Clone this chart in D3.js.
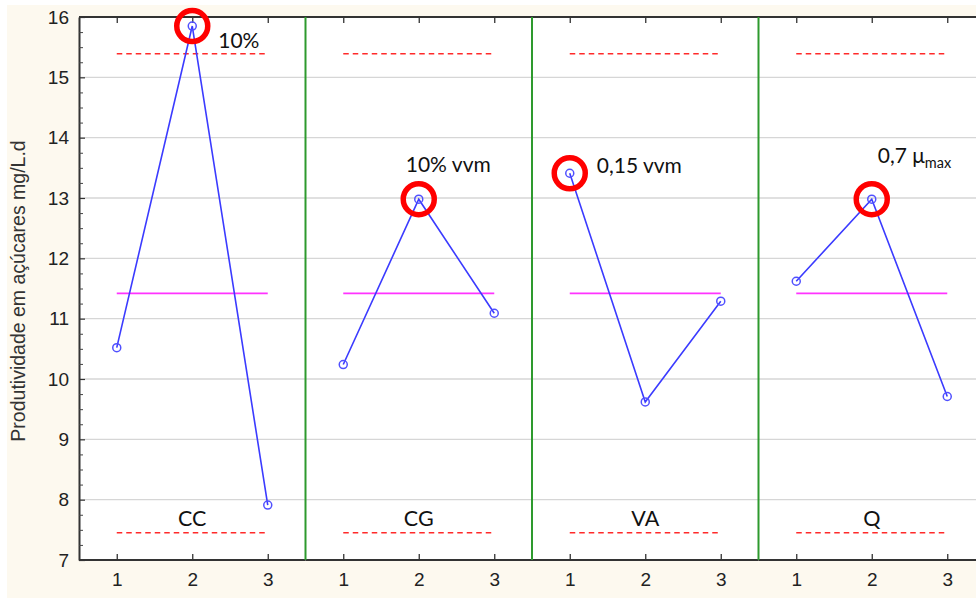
<!DOCTYPE html>
<html>
<head>
<meta charset="utf-8">
<script src="https://cdn.jsdelivr.net/npm/d3@7"></script>
<style>
  html, body { margin: 0; padding: 0; background: #ffffff; }
  svg { display: block; }
</style>
</head>
<body>
<svg id="chart" width="976" height="599"></svg>
<script>
// Factors and their levels
const factors = ["CC", "CG", "VA", "Q"];
const levels = ["1", "2", "3"];

// Mean sugar productivity (mg/L.d) at each level, one array per factor
const ccValues = [10.52, 15.85, 7.91];
const cgValues = [10.24, 12.98, 11.09];
const vaValues = [13.41, 9.62, 11.29];
const qValues  = [11.62, 12.98, 9.71];

// Grand mean and control limits
const grandMean  = 11.42;
const upperLimit = 15.39;
const lowerLimit = 7.45;

// Best level of each factor (index into levels) and its note
const bestLevel = [1, 1, 0, 1];
const bestNotes = ["10%", "10% vvm", "0,15 vvm", "0,7 μ"];
const bestNoteSub = ["", "", "", "max"];

const yTicks = [7, 8, 9, 10, 11, 12, 13, 14, 15, 16];
const yTitle = "Produtividade em açúcares mg/L.d";

const seriesValues = [ccValues, cgValues, vaValues, qValues];

const svg = d3.select("#chart");
const W = 976, H = 599;
const plot = { left: 79, top: 17, bottom: 560, panelW: 226.5 };

// Page background
svg.append("rect").attr("x", 0).attr("y", 0).attr("width", W).attr("height", H).attr("fill", "#ffffff");
svg.append("rect").attr("x", 7).attr("y", 5).attr("width", W - 7).attr("height", 593).attr("fill", "#fdf9ef");

const y = d3.scaleLinear().domain([7, 16]).range([plot.bottom, plot.top]);
const xOuter = d3.scaleBand().domain(factors)
  .range([plot.left, plot.left + plot.panelW * factors.length]).paddingInner(0).paddingOuter(0);
const xInner = d3.scalePoint().domain(levels).range([0, xOuter.bandwidth()]).padding(0.5);

// Plot area
svg.append("rect").attr("x", plot.left).attr("y", plot.top)
  .attr("width", W - plot.left).attr("height", plot.bottom - plot.top).attr("fill", "#ffffff");

// Horizontal gridlines
svg.append("g").selectAll("line").data(yTicks.filter(t => t > 7 && t < 16)).join("line")
  .attr("x1", plot.left).attr("x2", W)
  .attr("y1", d => y(d)).attr("y2", d => y(d))
  .attr("stroke", "#d6d6d6").attr("stroke-width", 1.3);

// Y axis: major ticks with labels, minor ticks every 0.25
const yAxis = d3.axisLeft(y).tickValues(yTicks).tickSizeInner(-6).tickSizeOuter(0).tickPadding(10)
  .tickFormat(d3.format("d"));
const gy = svg.append("g").attr("transform", `translate(${plot.left},0)`).call(yAxis);
gy.select(".domain").attr("stroke", "#333").attr("stroke-width", 2);
gy.selectAll(".tick line").attr("stroke", "#333").attr("stroke-width", 1.2);
gy.selectAll(".tick text").attr("font-family", "Liberation Sans, Arial, sans-serif")
  .attr("font-size", 19).attr("fill", "#222");
const minor = d3.range(7, 16.01, 0.25).filter(v => Math.abs(v - Math.round(v)) > 1e-6);
svg.append("g").attr("transform", `translate(${plot.left},0)`).call(
  d3.axisLeft(y).tickValues(minor).tickSizeInner(-4).tickSizeOuter(0).tickFormat("")
).call(g => {
  g.select(".domain").remove();
  g.selectAll(".tick line").attr("stroke", "#444").attr("stroke-width", 1);
});

// Y title
svg.append("text")
  .attr("transform", `translate(25,291) rotate(-90)`)
  .attr("text-anchor", "middle")
  .attr("font-family", "Liberation Sans, Arial, sans-serif")
  .attr("font-size", 19.5).attr("fill", "#333")
  .text(yTitle);

// Top frame line
svg.append("line").attr("x1", plot.left).attr("x2", W).attr("y1", plot.top).attr("y2", plot.top)
  .attr("stroke", "#333").attr("stroke-width", 2);

// Panels
factors.forEach((f, i) => {
  const x0 = xOuter(f);
  const g = svg.append("g").attr("transform", `translate(${x0},0)`);
  const values = seriesValues[i];
  const pts = levels.map((l, j) => [xInner(l), y(values[j])]);
  const xa = xInner(levels[0]), xb = xInner(levels[levels.length - 1]);

  // Control limits
  [upperLimit, lowerLimit].forEach(v => {
    g.append("line").attr("x1", xa).attr("x2", xb).attr("y1", y(v)).attr("y2", y(v))
      .attr("stroke", "#ff2a2a").attr("stroke-width", 1.5).attr("stroke-dasharray", "5.5,4");
  });
  // Grand mean
  g.append("line").attr("x1", xa).attr("x2", xb).attr("y1", y(grandMean)).attr("y2", y(grandMean))
    .attr("stroke", "#ff33ff").attr("stroke-width", 1.6);

  // Bottom axis
  const ga = g.append("g").attr("transform", `translate(0,${plot.bottom})`)
    .call(d3.axisBottom(xInner).tickSizeInner(-6).tickSizeOuter(0).tickPadding(13));
  ga.select(".domain").attr("stroke", "#333").attr("stroke-width", 2)
    .attr("d", `M0,0H${xOuter.bandwidth()}`);
  ga.selectAll(".tick line").attr("stroke", "#333").attr("stroke-width", 1.3);
  ga.selectAll(".tick text").attr("font-family", "Liberation Sans, Arial, sans-serif")
    .attr("font-size", 19).attr("fill", "#222");
  // Top axis ticks
  const gt = g.append("g").attr("transform", `translate(0,${plot.top})`)
    .call(d3.axisTop(xInner).tickSizeInner(-6).tickSizeOuter(0).tickFormat(""));
  gt.select(".domain").remove();
  gt.selectAll(".tick line").attr("stroke", "#333").attr("stroke-width", 1.3);

  // Factor label
  g.append("text").attr("x", xInner(levels[1])).attr("y", 526)
    .attr("text-anchor", "middle").attr("font-family", "Lato, Carlito, sans-serif")
    .attr("font-size", 21.5).attr("fill", "#111").text(f);

  // Series line and markers
  g.append("path").attr("d", d3.line()(pts))
    .attr("fill", "none").attr("stroke", "#3b3bff").attr("stroke-width", 1.6);
  g.selectAll("circle.pt").data(pts).join("circle").attr("class", "pt")
    .attr("cx", d => d[0]).attr("cy", d => d[1]).attr("r", 4)
    .attr("fill", "none").attr("stroke", "#5050ff").attr("stroke-width", 1.5);

  // Highlight of the best level
  const bp = pts[bestLevel[i]];
  g.append("circle").attr("cx", bp[0]).attr("cy", bp[1]).attr("r", 15.5)
    .attr("fill", "none").attr("stroke", "#ff0000").attr("stroke-width", 5.5);

  // Separator
  if (i > 0) {
    svg.append("line").attr("x1", x0).attr("x2", x0).attr("y1", plot.top).attr("y2", plot.bottom)
      .attr("stroke", "#2e9a2e").attr("stroke-width", 2);
  }
});

// Notes next to the best levels
const noteOffsets = [[26, 22], [-13, -27], [27, 0], [6, -36]];
factors.forEach((f, i) => {
  const xp = xOuter(f) + xInner(levels[bestLevel[i]]);
  const yp = y(seriesValues[i][bestLevel[i]]);
  const t = svg.append("text")
    .attr("x", xp + noteOffsets[i][0]).attr("y", yp + noteOffsets[i][1])
    .attr("font-family", "Lato, Carlito, sans-serif").attr("font-size", 21).attr("fill", "#111")
    .text(bestNotes[i]);
  if (bestNoteSub[i]) {
    t.append("tspan").attr("font-size", 14.5).attr("dy", 5).text(bestNoteSub[i]);
  }
});
</script>
</body>
</html>
